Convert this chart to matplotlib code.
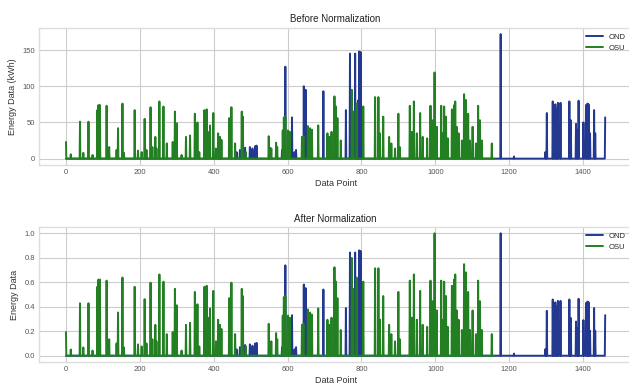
import numpy as np
import matplotlib.pyplot as plt

# spikes (index -> kWh), everything else sits on the 0 baseline
osu_idx = [0, 13, 38, 47, 61, 72, 85, 88, 92, 110, 117, 137, 141, 153, 157, 186, 195,
           205, 213, 218, 229, 234, 242, 245, 253, 264, 273, 289, 295, 300, 313, 325,
           336, 349, 356, 361, 375, 381, 384, 390, 399, 406, 412, 417, 421, 442, 448,
           458, 476, 479, 487, 549, 556, 569, 572, 587, 590, 594, 601, 606, 639, 643,
           655, 661, 666, 683, 708, 713, 719, 727, 731, 735, 744, 774, 778, 787, 805,
           837, 846, 850, 859, 875, 881, 891, 900, 904, 931, 936, 942, 950, 959, 966,
           978, 987, 992, 998, 1004, 1016, 1020, 1024, 1029, 1034, 1045, 1051, 1054,
           1058, 1063, 1072, 1078, 1083, 1089, 1094, 1101, 1110, 1116, 1121, 1126, 1153]
osu_val = [23, 6, 51, 8, 51, 5, 67, 74, 74, 73, 16, 12, 42, 76, 8, 67, 11,
           9, 55, 12, 71, 16, 30, 14, 79, 72, 21, 23, 65, 49, 5, 30,
           32, 62, 50, 9, 67, 68, 37, 46, 63, 14, 35, 30, 26, 56, 71,
           21, 65, 58, 9, 31, 14, 22, 16, 39, 57, 58, 39, 37, 30, 31,
           45, 42, 40, 46, 35, 30, 37, 86, 72, 56, 25, 95, 65, 76, 72,
           85, 85, 35, 58, 30, 21, 14, 62, 16, 73, 37, 79, 35, 63, 30,
           28, 73, 53, 119, 44, 73, 35, 72, 58, 28, 68, 74, 79,
           44, 35, 25, 89, 81, 62, 25, 44, 21, 73, 53, 25, 21]
osu_len = 1160

ond_idx = [379, 417, 462, 471, 485, 498, 505, 512, 516, 552, 585, 594, 612, 619, 623,
           644, 649, 697, 758, 769, 783, 787, 790, 792, 794, 796, 798, 800, 1177, 1213,
           1298, 1302, 1318, 1321, 1325, 1329, 1332, 1339, 1363, 1367, 1381, 1385, 1388,
           1401, 1408, 1412, 1415, 1419, 1430, 1433, 1460]
ond_val = [7, 6, 9, 12, 15, 16, 14, 17, 18, 15, 12, 127, 57, 9, 12,
           100, 95, 93, 67, 145, 145, 62, 70, 81, 148, 60, 147, 50, 172, 3,
           9, 63, 79, 74, 75, 69, 77, 77, 79, 53, 48, 39, 80,
           50, 74, 76, 75, 35, 67, 35, 57]
ond_len = 1461

ond = np.zeros(ond_len)
ond[ond_idx] = ond_val
osu = np.zeros(osu_len)
osu[osu_idx] = osu_val

plt.style.use('seaborn-v0_8-whitegrid')
plt.rcParams['font.family'] = ['Liberation Sans', 'DejaVu Sans']

ond_color = '#23398f'
osu_color = '#227f22'

fig = plt.figure(figsize=(6.29, 3.87), dpi=100)
ax1 = fig.add_axes([0.062, 0.574, 0.943, 0.354])
ax2 = fig.add_axes([0.062, 0.065, 0.943, 0.348])

panels = [
    (ax1, ond, osu, 'Before Normalization', 'Energy Data (kWh)'),
    (ax2, ond / ond.max(), osu / osu.max(), 'After Normalization', 'Energy Data'),
]
for ax, a, b, title, ylab in panels:
    ax.plot(np.arange(len(a)), a, color=ond_color, lw=1.4, label='OND')
    ax.plot(np.arange(len(b)), b, color=osu_color, lw=1.4, label='OSU')
    ax.set_title(title, fontsize=7, pad=4, color='#222222')
    ax.set_xlabel('Data Point', fontsize=6.5, labelpad=2, color='#333333')
    ax.set_ylabel(ylab, fontsize=6.5, labelpad=4, color='#333333')
    ax.tick_params(labelsize=5.5, colors='#555555', pad=3)
    ax.set_xticks([0, 200, 400, 600, 800, 1000, 1200, 1400])
    ax.legend(loc='upper right', fontsize=5.5, frameon=False, handlelength=2.2,
              borderaxespad=0.3, bbox_to_anchor=(0.998, 1.0))
    for s in ax.spines.values():
        s.set_color('#dddddd')

ax1.set_yticks([0, 50, 100, 150])
ax2.set_yticks([0.0, 0.2, 0.4, 0.6, 0.8, 1.0])

fig.savefig('out.png', dpi=100)
